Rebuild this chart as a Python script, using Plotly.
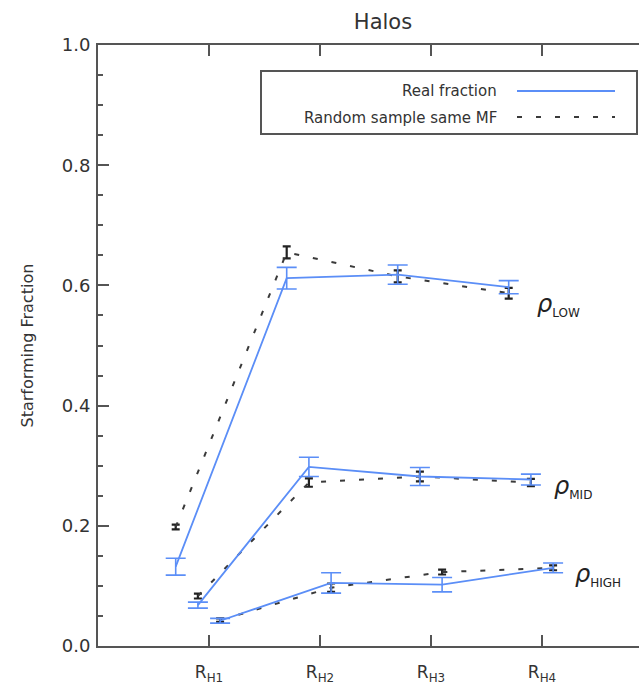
import plotly.graph_objects as go

# ---- data ----
categories = ["R<sub>H1</sub>", "R<sub>H2</sub>", "R<sub>H3</sub>", "R<sub>H4</sub>"]
cat_pos = [1, 2, 3, 4]

low_real = [0.132, 0.612, 0.618, 0.597]
low_real_err = [0.014, 0.018, 0.016, 0.011]
low_rand = [0.198, 0.655, 0.615, 0.587]
low_rand_err = [0.004, 0.010, 0.010, 0.009]

mid_real = [0.068, 0.298, 0.282, 0.277]
mid_real_err = [0.005, 0.016, 0.015, 0.009]
mid_rand = [0.083, 0.272, 0.282, 0.272]
mid_rand_err = [0.004, 0.007, 0.008, 0.006]

high_real = [0.042, 0.105, 0.102, 0.130]
high_real_err = [0.004, 0.017, 0.012, 0.008]
high_rand = [0.043, 0.097, 0.123, 0.130]
high_rand_err = [0.003, 0.007, 0.004, 0.004]

yticks = [0.0, 0.2, 0.4, 0.6, 0.8, 1.0]
ytick_labels = ["0.0", "0.2", "0.4", "0.6", "0.8", "1.0"]

# ---- styling / placement ----
BLUE = "#5b8ef7"
DARK = "#3a3a3a"
AXIS = "#555555"
FONT = "DejaVu Sans"
offsets = {"low": -0.3, "mid": -0.1, "high": 0.1}

fig = go.Figure()

series = [
    ("low", low_real, low_real_err, low_rand, low_rand_err),
    ("mid", mid_real, mid_real_err, mid_rand, mid_rand_err),
    ("high", high_real, high_real_err, high_rand, high_rand_err),
]

for key, real, real_err, rand, rand_err in series:
    xs = [p + offsets[key] for p in cat_pos]
    fig.add_trace(go.Scatter(
        x=xs, y=rand, mode="lines",
        line=dict(color=DARK, width=2, dash="5px,14px"),
        error_y=dict(type="data", array=rand_err, color="#222222", thickness=2.2, width=4),
        showlegend=False, hoverinfo="skip"))
    fig.add_trace(go.Scatter(
        x=xs, y=real, mode="lines",
        line=dict(color=BLUE, width=1.8),
        error_y=dict(type="data", array=real_err, color=BLUE, thickness=1.6, width=10),
        showlegend=False, hoverinfo="skip"))

# density labels
labels = [
    ("LOW", 3.94, 0.567),
    ("MID", 4.09, 0.265),
    ("HIGH", 4.28, 0.118),
]
for sub, lx, ly in labels:
    txt = "<i>ρ</i><sub><span style='font-size:12px'>%s</span></sub>" % sub
    fig.add_annotation(x=lx, y=ly, xref="x", yref="y", text=txt, showarrow=False,
                       xanchor="left", yanchor="middle",
                       font=dict(family=FONT, size=24, color="#222222"))

# legend box (manual)
L, R, B, T = 98, 639, 646, 45
W, H = R - L, B - T
def px(xp):
    return (xp - L) / W
def py(yp):
    return (B - yp) / H

fig.add_shape(type="rect", xref="paper", yref="paper",
              x0=px(261), x1=px(637), y0=py(134), y1=py(71),
              line=dict(color="#555555", width=2), fillcolor="white", layer="below")
fig.add_shape(type="line", xref="paper", yref="paper",
              x0=px(517), x1=px(615), y0=py(91), y1=py(91),
              line=dict(color=BLUE, width=1.8))
fig.add_shape(type="line", xref="paper", yref="paper",
              x0=px(517), x1=px(615), y0=py(117), y1=py(117),
              line=dict(color=DARK, width=2, dash="5px,14px"))
fig.add_annotation(xref="paper", yref="paper", x=px(499), y=py(91), text="Real fraction",
                   showarrow=False, xanchor="right", yanchor="middle",
                   font=dict(family=FONT, size=15, color="#333333"))
fig.add_annotation(xref="paper", yref="paper", x=px(499), y=py(118), text="Random sample same MF",
                   showarrow=False, xanchor="right", yanchor="middle",
                   font=dict(family=FONT, size=15, color="#333333"))

# y-axis title
fig.add_annotation(xref="paper", yref="paper", x=px(27), y=0.5, text="Starforming Fraction",
                   textangle=-90, showarrow=False, xanchor="center", yanchor="middle",
                   font=dict(family=FONT, size=16, color="#333333"))

fig.update_layout(
    width=639, height=684,
    margin=dict(l=L, r=0, t=T, b=684 - B),
    paper_bgcolor="white", plot_bgcolor="white",
    title=dict(text="Halos", x=383 / 639, xref="container", xanchor="center",
               y=1 - 22 / 684, yref="container", yanchor="middle",
               font=dict(family=FONT, size=21, color="#333333")),
    font=dict(family=FONT, color="#333333"),
    showlegend=False,
)

fig.update_xaxes(
    range=[0, W / 111.0], tickvals=cat_pos, ticktext=categories,
    ticks="inside", ticklen=11, tickwidth=1.5, tickcolor=AXIS,
    showline=True, linecolor=AXIS, linewidth=2, mirror="ticks",
    showgrid=False, zeroline=False, ticklabelstandoff=10,
    tickfont=dict(family=FONT, size=17, color="#333333"),
)
fig.update_yaxes(
    range=[0, 1.0], tickvals=yticks, ticktext=ytick_labels,
    ticks="inside", ticklen=11, tickwidth=1.5, tickcolor=AXIS,
    showline=True, linecolor=AXIS, linewidth=2, mirror=False,
    showgrid=False, zeroline=False, ticklabelstandoff=2,
    minor=dict(dtick=0.05, ticks="inside", ticklen=5, tickwidth=1.5, tickcolor=AXIS, showgrid=False),
    tickfont=dict(family=FONT, size=18, color="#333333"),
)

fig.write_html("out.html")
